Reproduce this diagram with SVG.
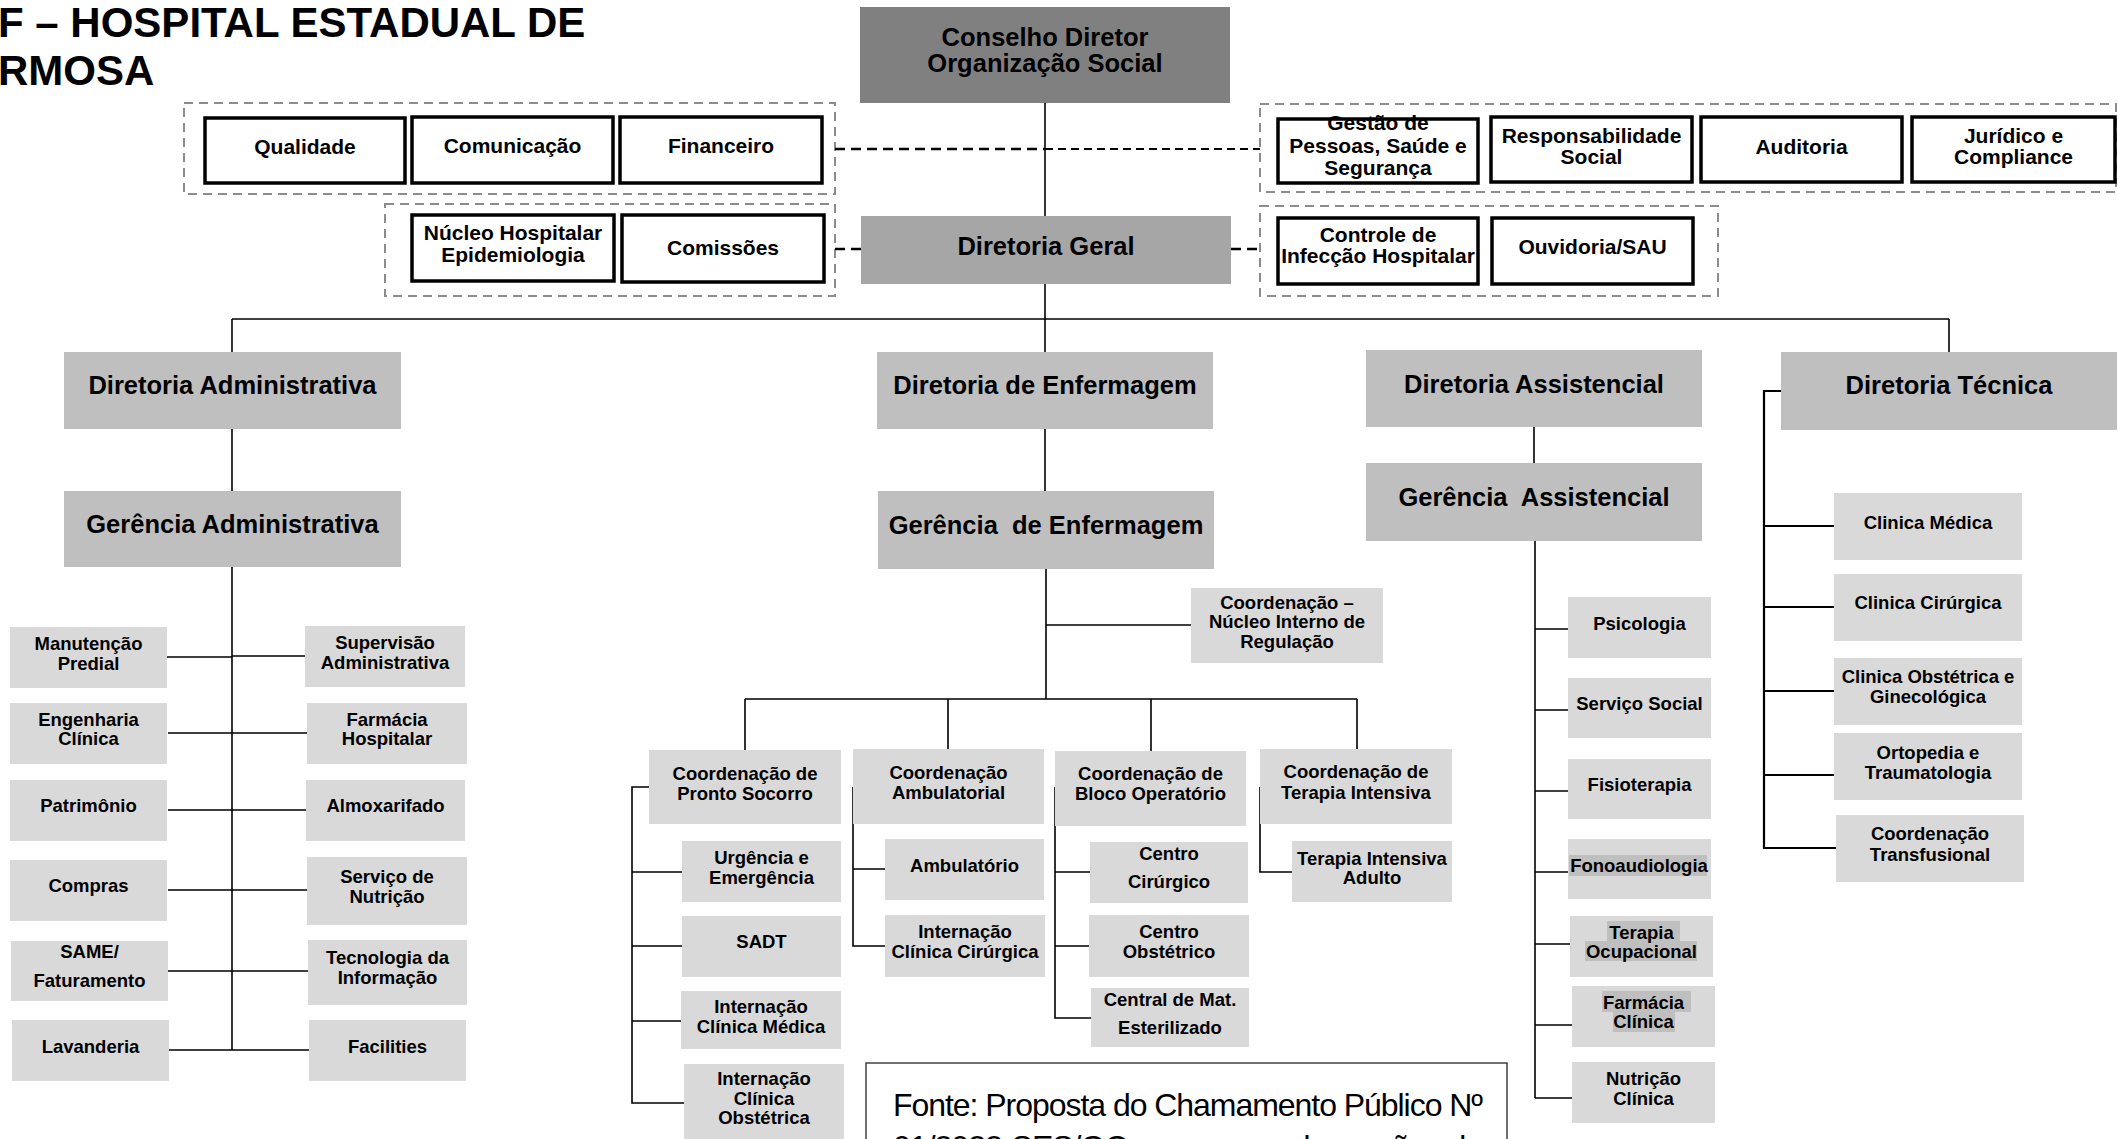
<svg xmlns="http://www.w3.org/2000/svg" width="2118" height="1139" viewBox="0 0 2118 1139">
<style>
text{font-family:"Liberation Sans",Arial,sans-serif;font-weight:bold;fill:#000;text-anchor:middle}
.title{font-size:42px;text-anchor:start}
.big{font-size:25.5px}
.mid{font-size:21px}
.sm{font-size:18.5px}
.wb{fill:#fff;stroke:#000;stroke-width:3.5}
.c0{fill:#808080}
.c1{fill:#a6a6a6}
.c2{fill:#bfbfbf}
.c3{fill:#d9d9d9}
.hl{fill:#bfbfbf}
.grp{fill:none;stroke:#8c8c8c;stroke-width:2;stroke-dasharray:9 6}
.ln{fill:none;stroke:#000;stroke-width:1.6}
.dsh1{fill:none;stroke:#000;stroke-width:2.5;stroke-dasharray:10 6}
.dsh2{fill:none;stroke:#000;stroke-width:1.8;stroke-dasharray:8 5}
.src{font-family:"Liberation Sans",Arial,sans-serif;font-weight:normal;font-size:32px;text-anchor:start}
</style>
<rect width="2118" height="1139" fill="#fff"/>

<g id="title">
<text class="title" x="-2" y="37">F – HOSPITAL ESTADUAL DE</text>
<text class="title" x="-2" y="85">RMOSA</text>
</g>

<g id="groups">
<rect class="grp" x="184" y="103" width="651" height="91"/>
<rect class="grp" x="385" y="204" width="450" height="92"/>
<rect class="grp" x="1260" y="104" width="856" height="88"/>
<rect class="grp" x="1260" y="206" width="458" height="90"/>
</g>

<g id="connectors">
<line class="ln" x1="1045" y1="103" x2="1045" y2="216"/>
<line class="ln" x1="1045" y1="284" x2="1045" y2="352"/>
<line class="ln" x1="232" y1="319" x2="1949" y2="319"/>
<line class="ln" x1="232" y1="319" x2="232" y2="352"/>
<line class="ln" x1="1949" y1="319" x2="1949" y2="352"/>
<line class="dsh1" x1="835" y1="149" x2="1045" y2="149"/>
<line class="dsh2" x1="1045" y1="149" x2="1260" y2="149"/>
<line class="dsh1" x1="835" y1="249" x2="861" y2="249"/>
<line class="dsh1" x1="1231" y1="249" x2="1260" y2="249"/>
<line class="ln" x1="232" y1="429" x2="232" y2="491"/>
<line class="ln" x1="232" y1="567" x2="232" y2="1050"/>
<path class="ln" d="M167,657H232M168,733H232M168,810H232M168,890H232M168,971H232M169,1050H232"/>
<path class="ln" d="M232,656H305M232,733H307M232,810H306M232,890H307M232,971H308M232,1050H309"/>
<line class="ln" x1="1045" y1="429" x2="1045" y2="491"/>
<line class="ln" x1="1046" y1="569" x2="1046" y2="699"/>
<line class="ln" x1="1046" y1="625" x2="1191" y2="625"/>
<path class="ln" d="M745,699H1357M745,699V750M948,699V749M1151,699V751M1357,699V749"/>
<path class="ln" d="M649,787H632V1103H684M632,872H682M632,946H682M632,1021H681"/>
<path class="ln" d="M853,787V946H885M853,869H885"/>
<path class="ln" d="M1055,787V1018H1091M1055,872H1090M1055,946H1089"/>
<path class="ln" d="M1260,787V872H1292"/>
<line class="ln" x1="1534" y1="427" x2="1534" y2="463"/>
<line class="ln" x1="1535" y1="541" x2="1535" y2="1098"/>
<path class="ln" d="M1535,629H1568M1535,710H1568M1535,791H1568M1535,872H1568M1535,944H1570M1535,1025H1572M1535,1098H1572"/>
<path class="ln" d="M1781,391H1764V848H1836M1764,526H1834M1764,607H1834M1764,691H1834M1764,775H1834" style="stroke-width:2.2"/>
</g>

<g id="n-conselho"><rect class="c0" x="860" y="7" width="370" height="96"/><text class="big" x="1045" y="46">Conselho Diretor</text><text class="big" x="1045" y="72">Organização Social</text></g>
<g id="n-geral"><rect class="c1" x="861" y="216" width="370" height="68"/><text class="big" x="1046" y="255">Diretoria Geral</text></g>

<g id="n-qualidade"><rect class="wb" x="205" y="118" width="200" height="65"/><text class="mid" x="305" y="153.5">Qualidade</text></g>
<g id="n-comunicacao"><rect class="wb" x="412" y="117" width="201" height="66"/><text class="mid" x="512.5" y="152.5">Comunicação</text></g>
<g id="n-financeiro"><rect class="wb" x="620" y="117" width="202" height="66"/><text class="mid" x="721" y="152.5">Financeiro</text></g>
<g id="n-nucleo"><rect class="wb" x="412" y="215" width="202" height="66"/><text class="mid" x="513" y="240">Núcleo Hospitalar</text><text class="mid" x="513" y="262">Epidemiologia</text></g>
<g id="n-comissoes"><rect class="wb" x="622" y="215" width="202" height="67"/><text class="mid" x="723" y="254.5">Comissões</text></g>

<g id="n-gestao"><rect class="wb" x="1278" y="119" width="200" height="64"/><text class="mid" x="1378" y="130">Gestão de</text><text class="mid" x="1378" y="153">Pessoas, Saúde e</text><text class="mid" x="1378" y="175">Segurança</text></g>
<g id="n-resp"><rect class="wb" x="1491" y="117" width="201" height="65"/><text class="mid" x="1591.5" y="143">Responsabilidade</text><text class="mid" x="1591.5" y="164">Social</text></g>
<g id="n-auditoria"><rect class="wb" x="1701" y="117" width="201" height="65"/><text class="mid" x="1801.5" y="154">Auditoria</text></g>
<g id="n-juridico"><rect class="wb" x="1912" y="117" width="203" height="65"/><text class="mid" x="2013.5" y="143">Jurídico e</text><text class="mid" x="2013.5" y="164">Compliance</text></g>
<g id="n-controle"><rect class="wb" x="1278" y="218" width="200" height="66"/><text class="mid" x="1378" y="242">Controle de</text><text class="mid" x="1378" y="263">Infecção Hospitalar</text></g>
<g id="n-ouvidoria"><rect class="wb" x="1492" y="218" width="201" height="66"/><text class="mid" x="1592.5" y="254">Ouvidoria/SAU</text></g>

<g id="n-dir-adm"><rect class="c2" x="64" y="352" width="337" height="77"/><text class="big" x="232.5" y="394">Diretoria Administrativa</text></g>
<g id="n-ger-adm"><rect class="c2" x="64" y="491" width="337" height="76"/><text class="big" x="232.5" y="533">Gerência Administrativa</text></g>
<g id="n-dir-enf"><rect class="c2" x="877" y="352" width="336" height="77"/><text class="big" x="1045" y="394">Diretoria de Enfermagem</text></g>
<g id="n-ger-enf"><rect class="c2" x="878" y="491" width="336" height="78"/><text class="big" x="1046" y="534" xml:space="preserve">Gerência  de Enfermagem</text></g>
<g id="n-dir-ass"><rect class="c2" x="1366" y="350" width="336" height="77"/><text class="big" x="1534" y="393">Diretoria Assistencial</text></g>
<g id="n-ger-ass"><rect class="c2" x="1366" y="463" width="336" height="78"/><text class="big" x="1534" y="506" xml:space="preserve">Gerência  Assistencial</text></g>
<g id="n-dir-tec"><rect class="c2" x="1781" y="352" width="336" height="78"/><text class="big" x="1949" y="394">Diretoria Técnica</text></g>

<g id="n-manutencao"><rect class="c3" x="10" y="627" width="157" height="61"/><text class="sm" x="88.5" y="650">Manutenção</text><text class="sm" x="88.5" y="670">Predial</text></g>
<g id="n-engenharia"><rect class="c3" x="10" y="703" width="157" height="61"/><text class="sm" x="88.5" y="726">Engenharia</text><text class="sm" x="88.5" y="745">Clínica</text></g>
<g id="n-patrimonio"><rect class="c3" x="10" y="780" width="157" height="61"/><text class="sm" x="88.5" y="812">Patrimônio</text></g>
<g id="n-compras"><rect class="c3" x="10" y="860" width="157" height="61"/><text class="sm" x="88.5" y="892">Compras</text></g>
<g id="n-same"><rect class="c3" x="11" y="941" width="157" height="60"/><text class="sm" x="89.5" y="958">SAME/</text><text class="sm" x="89.5" y="987">Faturamento</text></g>
<g id="n-lavanderia"><rect class="c3" x="12" y="1020" width="157" height="61"/><text class="sm" x="90.5" y="1053">Lavanderia</text></g>
<g id="n-supervisao"><rect class="c3" x="305" y="626" width="160" height="61"/><text class="sm" x="385" y="649">Supervisão</text><text class="sm" x="385" y="669">Administrativa</text></g>
<g id="n-farmacia-h"><rect class="c3" x="307" y="703" width="160" height="61"/><text class="sm" x="387" y="726">Farmácia</text><text class="sm" x="387" y="745">Hospitalar</text></g>
<g id="n-almox"><rect class="c3" x="306" y="780" width="159" height="61"/><text class="sm" x="385.5" y="812">Almoxarifado</text></g>
<g id="n-nutricao-s"><rect class="c3" x="307" y="857" width="160" height="68"/><text class="sm" x="387" y="883">Serviço de</text><text class="sm" x="387" y="903">Nutrição</text></g>
<g id="n-ti"><rect class="c3" x="308" y="940" width="159" height="65"/><text class="sm" x="387.5" y="964">Tecnologia da</text><text class="sm" x="387.5" y="984">Informação</text></g>
<g id="n-facilities"><rect class="c3" x="309" y="1020" width="157" height="61"/><text class="sm" x="387.5" y="1053">Facilities</text></g>

<g id="n-nir"><rect class="c3" x="1191" y="588" width="192" height="75"/><text class="sm" x="1287" y="608.5">Coordenação –</text><text class="sm" x="1287" y="628">Núcleo Interno de</text><text class="sm" x="1287" y="648">Regulação</text></g>
<g id="n-coord-ps"><rect class="c3" x="649" y="750" width="192" height="74"/><text class="sm" x="745" y="780">Coordenação de</text><text class="sm" x="745" y="800">Pronto Socorro</text></g>
<g id="n-coord-amb"><rect class="c3" x="853" y="749" width="191" height="75"/><text class="sm" x="948.5" y="779">Coordenação</text><text class="sm" x="948.5" y="799">Ambulatorial</text></g>
<g id="n-coord-bloco"><rect class="c3" x="1055" y="751" width="191" height="75"/><text class="sm" x="1150.5" y="780">Coordenação de</text><text class="sm" x="1150.5" y="800">Bloco Operatório</text></g>
<g id="n-coord-ti"><rect class="c3" x="1260" y="749" width="192" height="75"/><text class="sm" x="1356" y="778">Coordenação de</text><text class="sm" x="1356" y="799">Terapia Intensiva</text></g>
<g id="n-urgencia"><rect class="c3" x="682" y="841" width="159" height="61"/><text class="sm" x="761.5" y="864">Urgência e</text><text class="sm" x="761.5" y="884">Emergência</text></g>
<g id="n-sadt"><rect class="c3" x="682" y="916" width="159" height="61"/><text class="sm" x="761.5" y="948">SADT</text></g>
<g id="n-icm"><rect class="c3" x="681" y="991" width="160" height="58"/><text class="sm" x="761" y="1013">Internação</text><text class="sm" x="761" y="1033">Clínica Médica</text></g>
<g id="n-ico"><rect class="c3" x="684" y="1064" width="160" height="80"/><text class="sm" x="764" y="1085">Internação</text><text class="sm" x="764" y="1105">Clínica</text><text class="sm" x="764" y="1124">Obstétrica</text></g>
<g id="n-ambulatorio"><rect class="c3" x="885" y="839" width="159" height="61"/><text class="sm" x="964.5" y="872">Ambulatório</text></g>
<g id="n-icc"><rect class="c3" x="885" y="915" width="160" height="62"/><text class="sm" x="965" y="938">Internação</text><text class="sm" x="965" y="958">Clínica Cirúrgica</text></g>
<g id="n-cc"><rect class="c3" x="1090" y="842" width="158" height="61"/><text class="sm" x="1169" y="860">Centro</text><text class="sm" x="1169" y="888">Cirúrgico</text></g>
<g id="n-co"><rect class="c3" x="1089" y="915" width="160" height="62"/><text class="sm" x="1169" y="938">Centro</text><text class="sm" x="1169" y="958">Obstétrico</text></g>
<g id="n-cme"><rect class="c3" x="1091" y="988" width="158" height="59"/><text class="sm" x="1170" y="1006">Central de Mat.</text><text class="sm" x="1170" y="1034">Esterilizado</text></g>
<g id="n-tia"><rect class="c3" x="1292" y="841" width="160" height="61"/><text class="sm" x="1372" y="865">Terapia Intensiva</text><text class="sm" x="1372" y="884">Adulto</text></g>

<g id="n-psicologia"><rect class="c3" x="1568" y="597" width="143" height="61"/><text class="sm" x="1639.5" y="630">Psicologia</text></g>
<g id="n-servsocial"><rect class="c3" x="1568" y="678" width="143" height="60"/><text class="sm" x="1639.5" y="710">Serviço Social</text></g>
<g id="n-fisio"><rect class="c3" x="1568" y="759" width="143" height="60"/><text class="sm" x="1639.5" y="791">Fisioterapia</text></g>
<g id="n-fono"><rect class="c3" x="1568" y="839" width="143" height="60"/><rect class="hl" x="1569" y="855" width="138" height="21"/><text class="sm" x="1639" y="872">Fonoaudiologia</text></g>
<g id="n-to"><rect class="c3" x="1570" y="916" width="143" height="61"/><rect class="hl" x="1607" y="921" width="73" height="20"/><rect class="hl" x="1585" y="941" width="112" height="20"/><text class="sm" x="1641.5" y="939">Terapia</text><text class="sm" x="1641.5" y="958">Ocupacional</text></g>
<g id="n-farmclin"><rect class="c3" x="1572" y="986" width="143" height="61"/><rect class="hl" x="1602" y="991" width="89" height="21"/><rect class="hl" x="1613" y="1012" width="62" height="20"/><text class="sm" x="1643.5" y="1009">Farmácia</text><text class="sm" x="1643.5" y="1028">Clínica</text></g>
<g id="n-nutclin"><rect class="c3" x="1572" y="1062" width="143" height="61"/><text class="sm" x="1643.5" y="1085">Nutrição</text><text class="sm" x="1643.5" y="1105">Clínica</text></g>

<g id="n-clinmed"><rect class="c3" x="1834" y="493" width="188" height="67"/><text class="sm" x="1928" y="529">Clinica Médica</text></g>
<g id="n-clincir"><rect class="c3" x="1834" y="574" width="188" height="67"/><text class="sm" x="1928" y="609">Clinica Cirúrgica</text></g>
<g id="n-clinobs"><rect class="c3" x="1834" y="658" width="188" height="67"/><text class="sm" x="1928" y="683">Clinica Obstétrica e</text><text class="sm" x="1928" y="703">Ginecológica</text></g>
<g id="n-orto"><rect class="c3" x="1834" y="733" width="188" height="67"/><text class="sm" x="1928" y="759">Ortopedia e</text><text class="sm" x="1928" y="779">Traumatologia</text></g>
<g id="n-transf"><rect class="c3" x="1836" y="815" width="188" height="67"/><text class="sm" x="1930" y="840">Coordenação</text><text class="sm" x="1930" y="861">Transfusional</text></g>

<g id="fonte">
<rect x="866" y="1063" width="641" height="110" fill="#fff" stroke="#404040" stroke-width="1.5"/>
<text class="src" x="893" y="1116" textLength="590" lengthAdjust="spacing">Fonte: Proposta do Chamamento Público Nº</text>
<text class="src" x="893" y="1158" textLength="590" lengthAdjust="spacing">01/2022-SES/GO, com as readequações de</text>
</g>
</svg>
